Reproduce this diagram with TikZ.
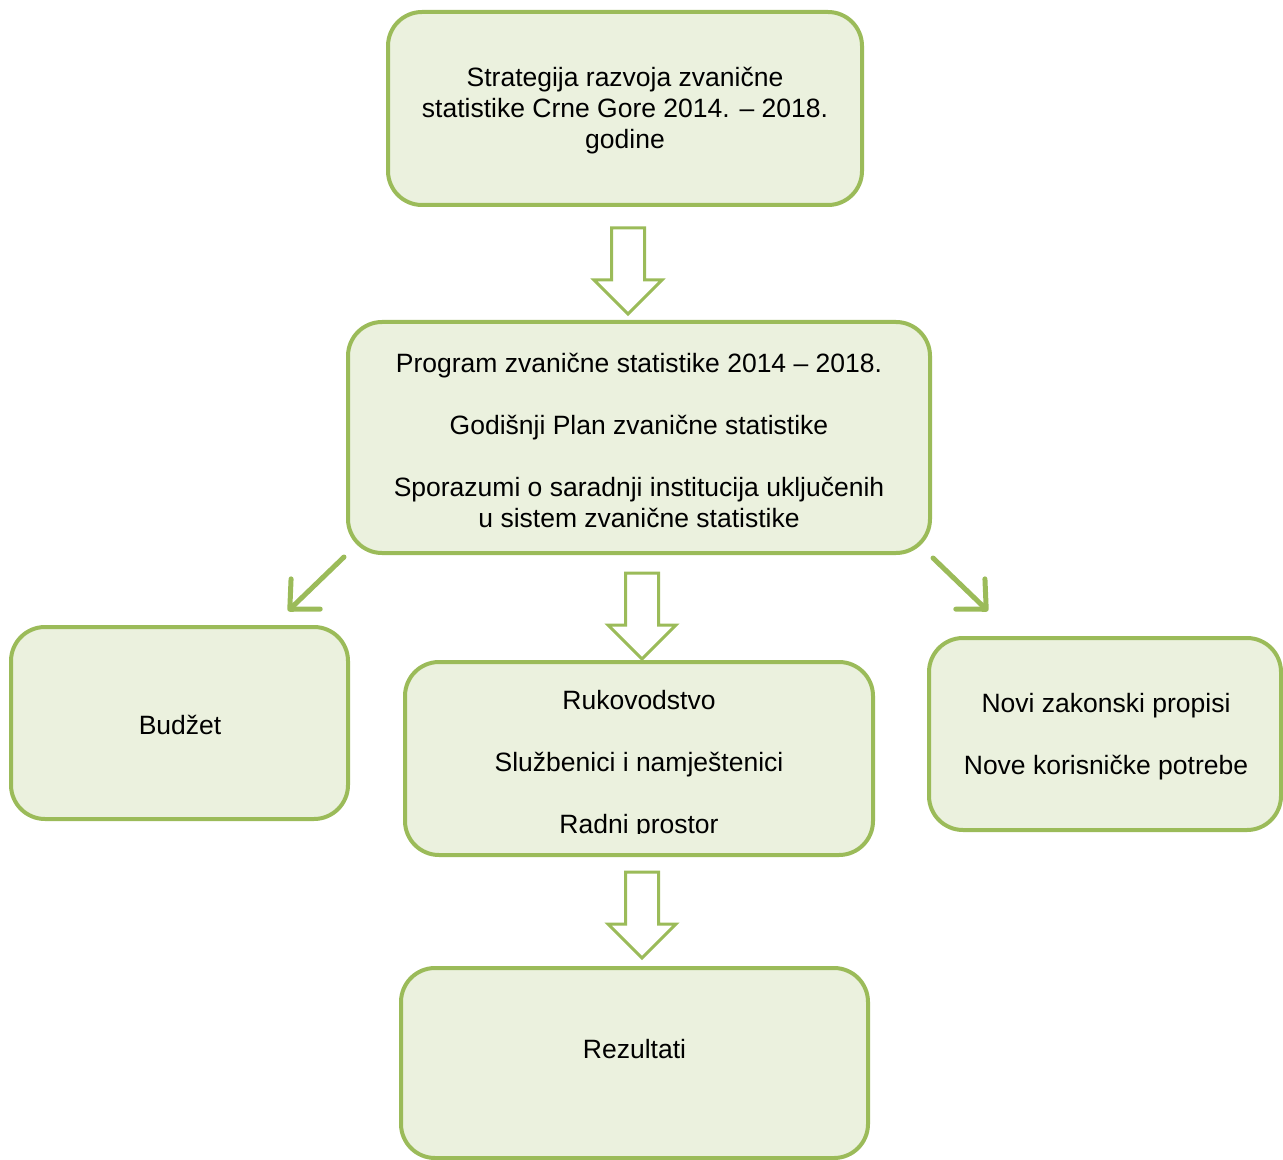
\documentclass[tikz,border=0pt]{standalone}
\usepackage{fontspec}
\setmainfont{Liberation Sans}
\usetikzlibrary{calc,arrows.meta}
\definecolor{boxline}{HTML}{9BBB59}
\definecolor{boxfill}{HTML}{EBF1DE}
\begin{document}
\begin{tikzpicture}[x=0.5pt,y=-0.5pt,
  font=\fontsize{13.25pt}{15.5pt}\selectfont,
  box/.style={draw=boxline, fill=boxfill, line width=2pt, rounded corners=17pt,
    inner sep=0pt, align=center},
  blockarr/.pic={\draw[draw=boxline, fill=white, line width=1.5pt, miter limit=10]
      (-16.5,0) -- (16.5,0) -- (16.5,52) -- (34,52) -- (0,86) -- (-34,52) -- (-16.5,52) -- cycle;},
  thinarr/.style={draw=boxline, line width=2.5pt, line cap=round,
    -{Straight Barb[length=11pt,width=21pt,round]}},
  lbl/.style={inner sep=0pt, align=center}
]
\useasboundingbox (0,0) rectangle (1283,1160);

\node[box, minimum width=237pt, minimum height=96.5pt] (top) at (625,108.5) {};
\node[lbl] (toptxt) at (625,110.5)
  {Strategija razvoja zvanične\\statistike Crne Gore 2014. – 2018.\\godine};
\node[box, minimum width=291pt, minimum height=115.5pt] (mid) at (639,437.5) {};
\node[lbl] (midtxt) at (639,440.5)
  {Program zvanične statistike 2014 – 2018.\\[15.5pt]Godišnji Plan zvanične statistike\\[15.5pt]Sporazumi o saradnji institucija uključenih\\u sistem zvanične statistike};
\node[box, minimum width=168.5pt, minimum height=96pt] (bud) at (179.5,723) {};
\node[lbl] (budtxt) at (180,725) {Budžet};
\node[box, minimum width=234pt, minimum height=96.5pt] (cen) at (639,758.5) {};
\begin{scope}
  \clip (405,662) rectangle (873,833);
  \node[lbl] (centxt) at (639,764.5)
    {Rukovodstvo\\[15.5pt]Službenici i namještenici\\[15.5pt]Radni prostor};
\end{scope}
\node[box, minimum width=176pt, minimum height=96pt] (rgt) at (1105,734) {};
\node[lbl] (rgttxt) at (1106,737)
  {Novi zakonski propisi\\[15.5pt]Nove korisničke potrebe};
\node[box, minimum width=233.5pt, minimum height=95pt] (rez) at (634.5,1063) {};
\node[lbl] (reztxt) at ($(rez.north)+(0,83)$) {Rezultati};

\pic at ($(top.south)+(3,21)$) {blockarr};
\pic at ($(mid.south)+(3,18)$) {blockarr};
\pic at ($(cen.south)+(3,15)$) {blockarr};

\coordinate (lend) at ($(bud.north east)+(-62,-14)$);
\coordinate (rend) at ($(rgt.north west)+(61,-25)$);
\draw[thinarr] ($(mid.south west)+(-2,2)$) -- (lend);
\draw[thinarr] ($(mid.south east)+(1,3)$) -- (rend);
\end{tikzpicture}
\end{document}
